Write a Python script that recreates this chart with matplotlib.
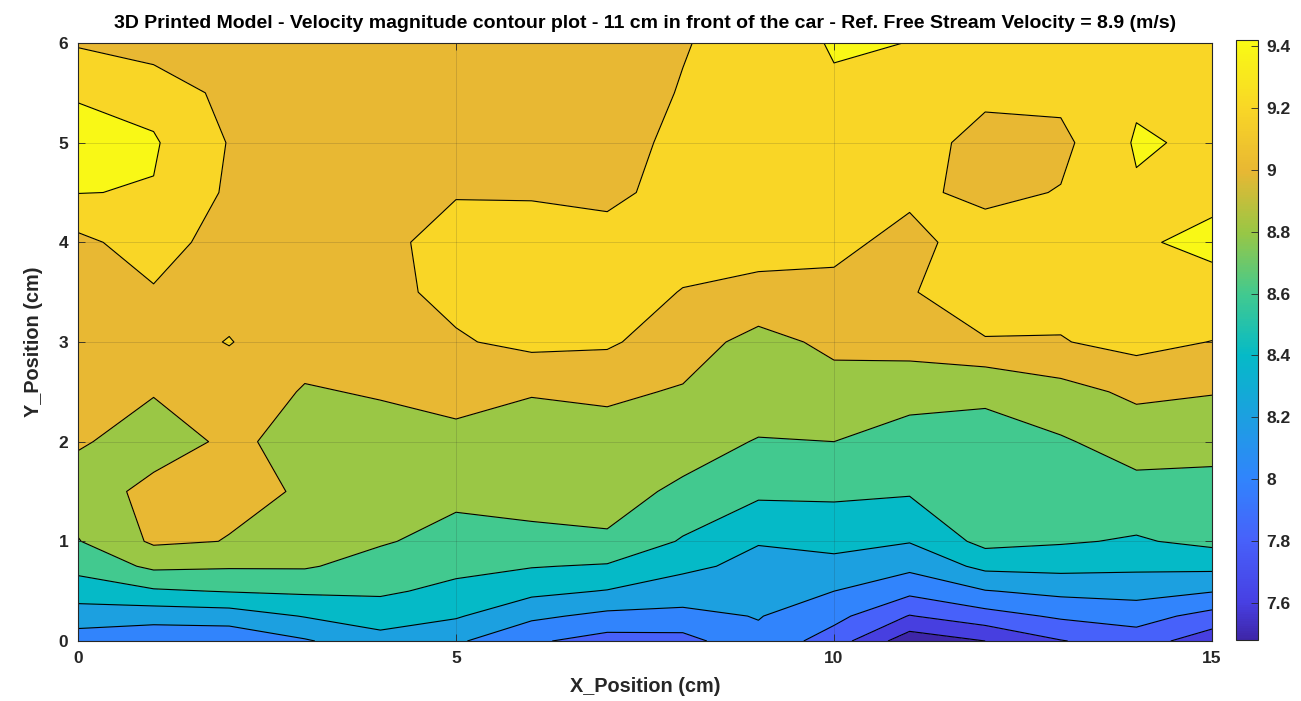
import numpy as np
import matplotlib
matplotlib.use("Agg")
import matplotlib.pyplot as plt
from matplotlib.colors import LinearSegmentedColormap, Normalize
from matplotlib.cm import ScalarMappable

# ---------------- data ----------------
x_cm = [0, 1, 2, 3, 4, 5, 6, 7, 8, 9, 10, 11, 12, 13, 14, 15]
y_cm = [0.0, 0.25, 0.5, 0.75, 1.0, 1.5, 2.0, 2.5, 3.0, 3.5, 4.0, 4.5, 5.0, 5.5, 6.0]

v_y000 = [8.10, 8.05, 8.05, 8.18, 8.33, 8.23, 8.03, 7.92, 7.93, 8.15, 7.90, 7.48, 7.60, 7.79, 7.90, 7.68]
v_y025 = [8.30, 8.28, 8.30, 8.41, 8.49, 8.42, 8.24, 8.15, 8.14, 8.21, 8.06, 7.79, 7.92, 8.03, 8.08, 7.93]
v_y050 = [8.50, 8.575, 8.61, 8.63, 8.63, 8.55, 8.45, 8.39, 8.31, 8.29, 8.20, 8.05, 8.19, 8.25, 8.27, 8.21]
v_y075 = [8.66, 8.84, 8.82, 8.82, 8.72, 8.65, 8.61, 8.58, 8.44, 8.35, 8.35, 8.25, 8.45, 8.46, 8.44, 8.45]
v_y100 = [8.79, 9.03, 8.995, 8.88, 8.82, 8.73, 8.76, 8.78, 8.58, 8.41, 8.45, 8.41, 8.66, 8.62, 8.58, 8.65]
v_y150 = [8.91, 9.05, 9.03, 8.99, 8.90, 8.85, 8.86, 8.86, 8.77, 8.64, 8.64, 8.62, 8.72, 8.72, 8.74, 8.74]
v_y200 = [9.02, 8.92, 9.03, 8.95, 8.95, 8.95, 8.92, 8.93, 8.87, 8.79, 8.80, 8.72, 8.78, 8.78, 8.88, 8.86]
v_y250 = [9.06, 9.01, 9.08, 8.99, 9.01, 9.06, 9.01, 9.03, 8.985, 8.90, 8.93, 8.87, 8.81, 8.93, 9.04, 9.01]
v_y300 = [9.10, 9.10, 9.21, 9.05, 9.10, 9.18, 9.25, 9.23, 9.08, 8.94, 9.04, 9.08, 9.19, 9.19, 9.26, 9.195]
v_y350 = [9.14, 9.18, 9.12, 9.08, 9.15, 9.25, 9.33, 9.32, 9.19, 9.13, 9.15, 9.19, 9.28, 9.26, 9.30, 9.37]
v_y400 = [9.15, 9.30, 9.10, 9.10, 9.16, 9.26, 9.30, 9.28, 9.30, 9.30, 9.25, 9.14, 9.30, 9.24, 9.39, 9.42]
v_y450 = [9.405, 9.39, 9.17, 9.10, 9.13, 9.19, 9.18, 9.15, 9.28, 9.30, 9.30, 9.24, 9.15, 9.21, 9.38, 9.38]
v_y500 = [9.42, 9.42, 9.19, 9.10, 9.10, 9.10, 9.12, 9.12, 9.25, 9.30, 9.32, 9.30, 9.12, 9.15, 9.42, 9.37]
v_y550 = [9.395, 9.33, 9.14, 9.10, 9.08, 9.08, 9.10, 9.12, 9.21, 9.28, 9.37, 9.33, 9.25, 9.25, 9.37, 9.30]
v_y600 = [9.18, 9.10, 9.10, 9.08, 9.07, 9.05, 9.08, 9.10, 9.19, 9.27, 9.42, 9.398, 9.30, 9.30, 9.30, 9.32]

contour_levels = [7.6, 7.8, 8.0, 8.2, 8.4, 8.6, 8.8, 9.0, 9.2, 9.4]
cbar_ticks = [7.6, 7.8, 8.0, 8.2, 8.4, 8.6, 8.8, 9.0, 9.2, 9.4]
cbar_ticklabels = ["7.6", "7.8", "8", "8.2", "8.4", "8.6", "8.8", "9", "9.2", "9.4"]
x_ticks = [0, 5, 10, 15]
y_ticks = [0, 1, 2, 3, 4, 5, 6]

title = "3D Printed Model - Velocity magnitude contour plot - 11 cm in front of the car - Ref. Free Stream Velocity = 8.9 (m/s)"
xlabel = "X_Position (cm)"
ylabel = "Y_Position (cm)"

# ---------------- build ----------------
V = np.array([v_y000, v_y025, v_y050, v_y075, v_y100, v_y150, v_y200, v_y250,
              v_y300, v_y350, v_y400, v_y450, v_y500, v_y550, v_y600])
X, Y = np.meshgrid(np.array(x_cm, float), np.array(y_cm, float))
vmin, vmax = float(V.min()), float(V.max())

# parula-like colormap (anchors at level values)
anchor_vals = [vmin, 7.6, 7.8, 8.0, 8.2, 8.4, 8.6, 8.8, 9.0, 9.2, vmax]
anchor_cols = [(0.243, 0.150, 0.660), (0.280, 0.250, 0.890), (0.280, 0.380, 0.980),
               (0.190, 0.520, 0.990), (0.110, 0.625, 0.880), (0.020, 0.730, 0.780),
               (0.260, 0.790, 0.560), (0.600, 0.780, 0.270), (0.910, 0.720, 0.200),
               (0.975, 0.840, 0.150), (0.977, 0.984, 0.080)]
pos = [(a - vmin) / (vmax - vmin) for a in anchor_vals]
cmap = LinearSegmentedColormap.from_list("parula_like", list(zip(pos, anchor_cols)), N=256)
norm = Normalize(vmin=vmin, vmax=vmax)

fill_levels = [vmin - 1e-6] + contour_levels + [vmax + 1e-6]
fill_colors = [cmap(norm(max(l, vmin))) for l in fill_levels[:-1]]

plt.rcParams['font.family'] = ['Liberation Sans', 'DejaVu Sans']
fig = plt.figure(figsize=(13.01, 7.01), dpi=100)
fig.patch.set_facecolor("white")
ax = fig.add_axes([78 / 1301, 1 - 641 / 701, (1212 - 78) / 1301, (641 - 43) / 701])

ax.contourf(X, Y, V, levels=fill_levels, colors=fill_colors)
ax.contour(X, Y, V, levels=contour_levels, colors="k", linewidths=0.8)

ax.set_xlim(0, 15)
ax.set_ylim(0, 6)
ax.set_xticks(x_ticks)
ax.set_yticks(y_ticks)
ax.tick_params(direction="in", length=5, width=0.6, top=True, right=True,
               labelsize=12.5, colors="#262626", pad=7)
for lab in ax.get_xticklabels() + ax.get_yticklabels():
    lab.set_fontweight("bold")
ax.grid(True, color="#262626", alpha=0.18, linewidth=0.6)
ax.set_axisbelow(False)
for s in ax.spines.values():
    s.set_color("#262626")
    s.set_linewidth(0.8)

ax.set_title(title, fontsize=14, fontweight="bold", color="black", pad=11)
ax.set_xlabel(xlabel, fontsize=14.3, fontweight="bold", color="#262626", labelpad=8)
ax.set_ylabel(ylabel, fontsize=14.3, fontweight="bold", color="#262626", labelpad=11)

cax = fig.add_axes([1236 / 1301, 1 - 640 / 701, 22 / 1301, 600 / 701])
sm = ScalarMappable(norm=norm, cmap=cmap)
cb = fig.colorbar(sm, cax=cax)
cb.set_ticks(cbar_ticks)
cb.set_ticklabels(cbar_ticklabels)
cb.outline.set_edgecolor("#262626")
cb.outline.set_linewidth(0.8)
cax.tick_params(direction="in", length=5, width=0.6, labelsize=12.5, colors="#262626", pad=6)
for lab in cax.get_yticklabels():
    lab.set_fontweight("bold")

fig.savefig("out.png", dpi=100)
